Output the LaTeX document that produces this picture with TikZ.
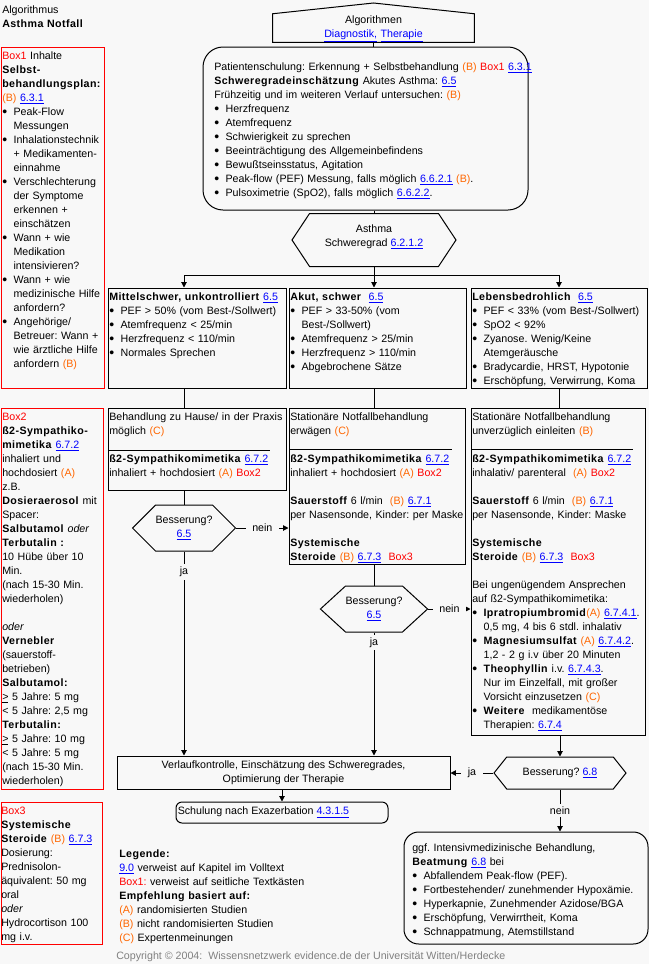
\documentclass[tikz,border=0pt]{standalone}
\usepackage{fontspec}
\setmainfont{Liberation Sans}[BoldFeatures={LetterSpace=4}]
\usetikzlibrary{shapes.symbols, fit, arrows.meta}
\frenchspacing

\newcommand\lnk[1]{\textcolor{lnkblue}{\underline{#1}}}
\newcommand\evid[1]{\textcolor{evorange}{(#1)}}
\newcommand\boxref[1]{\textcolor{boxred}{#1}}
\newcommand\bul{\makebox[8.5pt][l]{\raisebox{-1.2pt}{\fontsize{10.5}{10}\selectfont\textbullet}}}
\newcommand\ind{\hspace*{8.5pt}}

\begin{document}
\begin{tikzpicture}[x=0.75pt, y=-0.75pt, every node/.style={font=\fontsize{8}{10.5}\selectfont}]
  \definecolor{bg}{RGB}{248,248,248} \definecolor{lnkblue}{RGB}{0,0,255}
  \definecolor{evorange}{RGB}{255,102,0} \definecolor{boxred}{RGB}{255,0,0} \definecolor{copygray}{RGB}{128,128,128}
  \tikzstyle{line}=[line width=0.75pt]
  \tikzstyle{edge}=[-{Triangle[length=4pt,width=4pt]}, line width=0.75pt]
  \tikzstyle{box}=[draw, line width=0.75pt, inner sep=0pt]
  \tikzstyle{redbox}=[draw=boxred, line width=0.75pt, inner sep=0pt]
  \tikzstyle{txt}=[anchor=north west, align=left, inner sep=0pt, execute at begin node={\strut}]
  \tikzstyle{hexa}=[signal, signal to=east and west, draw, line width=0.75pt, inner sep=0pt, align=center]
  \tikzstyle{lbl}=[fill=bg, inner xsep=5pt, inner ysep=2pt]
  \fill[bg] (0,0) rectangle (649,964);
  \useasboundingbox (0,0) rectangle (649,964);

  \node[txt, text width=120pt] (title) at (2,3) {Algorithmus\\\textbf{Asthma Notfall}};

  % side boxes
  \node[redbox, fit={(1,47) (104,388)}] (box1) {};
  \node[txt, text width=90pt] (box1t) at (2,49) {\boxref{Box1} Inhalte\\ \textbf{Selbst-}\\ \textbf{behandlungsplan:}\\ \evid{B} \lnk{6.3.1}\\
    \bul Peak-Flow\\ \ind Messungen\\ \bul Inhalationstechnik\\ \ind + Medikamenten-\\ \ind einnahme\\
    \bul Verschlechterung\\ \ind der Symptome\\ \ind erkennen +\\ \ind einschätzen\\
    \bul Wann + wie\\ \ind Medikation\\ \ind intensivieren?\\ \bul Wann + wie\\ \ind medizinische Hilfe\\ \ind anfordern?\\
    \bul Angehörige/\\ \ind Betreuer: Wann +\\ \ind wie ärztliche Hilfe\\ \ind anfordern \evid{B}};
  \node[redbox, fit={(1,408) (103,789)}] (box2) {};
  \node[txt, text width=90pt] (box2t) at (2,410) {\boxref{Box2}\\ \textbf{ß2-Sympathiko-}\\ \textbf{mimetika} \lnk{6.7.2}\\ inhaliert und\\ hochdosiert \evid{A}\\ z.B.\\
    \textbf{Dosieraerosol} mit\\ Spacer:\\ \textbf{Salbutamol} \textit{oder}\\ \textbf{Terbutalin :}\\ 10 Hübe über 10\\ Min.\\ (nach 15-30 Min.\\ wiederholen)\\[10.5pt]
    \textit{oder}\\ \textbf{Vernebler}\\ (sauerstoff-\\ betrieben)\\ \textbf{Salbutamol:}\\ \underline{>} 5 Jahre: 5 mg\\ < 5 Jahre: 2,5 mg\\
    \textbf{Terbutalin:}\\ \underline{>} 5 Jahre: 10 mg\\ < 5 Jahre: 5 mg\\ (nach 15-30 Min.\\ wiederholen)};
  \node[redbox, fit={(1,802) (102,944)}] (box3) {};
  \node[txt, text width=90pt] (box3t) at (1,804) {\boxref{Box3}\\ \textbf{Systemische}\\ \textbf{Steroide} \evid{B} \lnk{6.7.3}\\ Dosierung:\\ Prednisolon-\\ äquivalent: 50 mg\\ oral\\ \textit{oder}\\ Hydrocortison 100\\ mg i.v.};

  % top
  \node[inner sep=0pt, fit={(273,14) (474,42)}] (algo) {};
  \draw[line] (algo.south west) -- (algo.north west) -- (algo.north |- 0,3) -- (algo.north east) -- (algo.south east) -- cycle;
  \node[txt, anchor=north, align=center, text width=140pt] (algot) at (373.5,13) {Algorithmen\\ \lnk{Diagnostik,} \lnk{Therapie}};
  \node[box, rounded corners=15pt, fit={(203,47) (528,210)}] (info) {};
  \node[txt, text width=250pt] (infot) at (214,60) {Patientenschulung: Erkennung + Selbstbehandlung \evid{B} \boxref{Box1} \lnk{6.3.1}\\
    \textbf{Schweregradeinschätzung} Akutes Asthma: \lnk{6.5}\\ Frühzeitig und im weiteren Verlauf untersuchen: \evid{B}\\
    \bul Herzfrequenz\\ \bul Atemfrequenz\\ \bul Schwierigkeit zu sprechen\\ \bul Beeinträchtigung des Allgemeinbefindens\\
    \bul Bewußtseinsstatus, Agitation\\ \bul Peak-flow (PEF) Messung, falls möglich \lnk{6.6.2.1} \evid{B}.\\ \bul Pulsoximetrie (SpO2), falls möglich \lnk{6.6.2.2}.};
  \node[hexa, minimum width=123pt, minimum height=39.75pt, signal pointer angle=113] (sev) at (374,240) {};
  \node[align=center, inner sep=0pt] (sevt) at (374,237) {Asthma\\ Schweregrad \lnk{6.2.1.2}};

  % severity
  \foreach \i/\xa/\xb in {1/108/286, 2/289/466, 3/471/647} {
    \node[box, fit={(\xa,288) (\xb,388)}] (grade\i) {};
  }
  \node[txt, text width=140pt] (grade1t) at (109,290) {\textbf{Mittelschwer, unkontrolliert} \lnk{6.5}\\ \bul PEF > 50\% (vom Best-/Sollwert)\\
    \bul Atemfrequenz < 25/min\\ \bul Herzfrequenz < 110/min\\ \bul Normales Sprechen};
  \node[txt, text width=140pt] (grade2t) at (290,290) {\textbf{Akut, schwer}\ \ \lnk{6.5}\\ \bul PEF > 33-50\% (vom\\ \ind Best-/Sollwert)\\
    \bul Atemfrequenz > 25/min\\ \bul Herzfrequenz > 110/min\\ \bul Abgebrochene Sätze};
  \node[txt, text width=140pt] (grade3t) at (472,290) {\textbf{Lebensbedrohlich}\ \ \lnk{6.5}\\ \bul PEF < 33\% (vom Best-/Sollwert)\\ \bul SpO2 < 92\%\\
    \bul Zyanose. Wenig/Keine\\ \ind Atemgeräusche\\ \bul Bradycardie, HRST, Hypotonie\\ \bul Erschöpfung, Verwirrung, Koma};

  % treatment
  \node[box, fit={(108,408) (286,490)}] (treat1) {};
  \node[box, fit={(289,408) (465,564)}] (treat2) {};
  \node[box, fit={(471,408) (645,735)}] (treat3) {};
  \draw[line] (108,450) -- (270,450);
  \draw[line] (289,449) -- (452,449);
  \draw[line] (471,449) -- (633,449);
  \node[txt, text width=140pt] (treat1t) at (109,410) {Behandlung zu Hause/ in der Praxis\\ möglich \evid{C}\\[10.5pt]
    \textbf{ß2-Sympathikomimetika} \lnk{6.7.2}\\ inhaliert + hochdosiert \evid{A} \boxref{Box2}};
  \node[txt, text width=140pt] (treat2t) at (290,410) {Stationäre Notfallbehandlung\\ erwägen \evid{C}\\[10.5pt]
    \textbf{ß2-Sympathikomimetika} \lnk{6.7.2}\\ inhaliert + hochdosiert \evid{A} \boxref{Box2}\\[10.5pt]
    \textbf{Sauerstoff} 6 l/min\ \ \evid{B} \lnk{6.7.1}\\ per Nasensonde, Kinder: per Maske\\[10.5pt]
    \textbf{Systemische}\\ \textbf{Steroide} \evid{B} \lnk{6.7.3}\ \ \boxref{Box3}};
  \node[txt, text width=140pt] (treat3t) at (472,410) {Stationäre Notfallbehandlung\\ unverzüglich einleiten \evid{B}\\[10.5pt]
    \textbf{ß2-Sympathikomimetika} \lnk{6.7.2}\\ inhalativ/ parenteral\ \ \evid{A} \boxref{Box2}\\[10.5pt]
    \textbf{Sauerstoff} 6 l/min\ \ \evid{B} \lnk{6.7.1}\\ per Nasensonde, Kinder: Maske\\[10.5pt]
    \textbf{Systemische}\\ \textbf{Steroide} \evid{B} \lnk{6.7.3}\ \ \boxref{Box3}\\[10.5pt]
    Bei ungenügendem Ansprechen\\ auf ß2-Sympathikomimetika:\\
    \bul \textbf{Ipratropiumbromid}\evid{A} \lnk{6.7.4.1}.\\ \ind 0,5 mg, 4 bis 6 stdl. inhalativ\\
    \bul \textbf{Magnesiumsulfat} \evid{A} \lnk{6.7.4.2}.\\ \ind 1,2 - 2 g i.v über 20 Minuten\\
    \bul \textbf{Theophyllin} i.v. \lnk{6.7.4.3}.\\ \ind Nur im Einzelfall, mit großer\\ \ind Vorsicht einzusetzen \evid{C}\\
    \bul \textbf{Weitere}\ \ medikamentöse\\ \ind Therapien: \lnk{6.7.4}};

  % decisions
  \node[hexa, minimum width=69pt, minimum height=34.5pt, signal pointer angle=90] (bess1) at (184,528) {Besserung?\\ \lnk{6.5}};
  \node[hexa, minimum width=79.5pt, minimum height=34.5pt, signal pointer angle=85] (bess2) at (374,609) {Besserung?\\ \lnk{6.5}};
  \node[hexa, minimum width=99pt, minimum height=24pt, signal pointer angle=103] (bess3) at (560,773) {Besserung? \lnk{6.8}};

  % bottom
  \node[box, fit={(117,756) (450,789)}] (verlauf) {};
  \node[align=center, inner sep=0pt] (verlauft) at (verlauf.center) {Verlaufkontrolle, Einschätzung des Schweregrades,\\ Optimierung der Therapie};
  \node[box, rounded corners=4.5pt, fit={(176,802) (388,823)}] (schul) {};
  \node[anchor=west, inner sep=0pt] (schult) at ([xshift=1.5pt]schul.west) {Schulung nach Exazerbation \lnk{4.3.1.5}};
  \node[box, rounded corners=11pt, fit={(404,832) (648,944)}] (final) {};
  \node[txt, text width=180pt] (finalt) at (412,841) {ggf. Intensivmedizinische Behandlung,\\ \textbf{Beatmung} \lnk{6.8} bei\\
    \bul Abfallendem Peak-flow (PEF).\\ \bul Fortbestehender/ zunehmender Hypoxämie.\\ \bul Hyperkapnie, Zunehmender Azidose/BGA\\
    \bul Erschöpfung, Verwirrtheit, Koma\\ \bul Schnappatmung, Atemstillstand};
  \node[txt, text width=200pt] (legend) at (119,847) {\textbf{Legende:}\\ \lnk{9.0} verweist auf Kapitel im Volltext\\ \boxref{Box1:} verweist auf seitliche Textkästen\\
    \textbf{Empfehlung basiert auf:}\\ \evid{A} randomisierten Studien\\ \evid{B} nicht randomisierten Studien\\ \evid{C} Expertenmeinungen};
  \node[anchor=west, inner sep=0pt, text=copygray] (copy) at (116,957) {Copyright © 2004:\ \ Wissensnetzwerk evidence.de der Universität Witten/Herdecke};

  % connectors
  \draw[line] (algo.south) -- (algo.south |- info.north);
  \draw[line] (sev.north |- info.south) -- (sev.north);
  \coordinate (fork) at (sev.south |- 0,275);
  \draw[line] (sev.south) -- (fork);
  \draw[line] (fork -| 184,0) -- (fork -| 559,0);
  \foreach \x/\i in {184/1, 374/2, 559/3} {
    \draw[edge] (fork -| \x,0) -- (grade\i.north -| \x,0);
    \draw[line] (grade\i.south -| \x,0) -- (treat\i.north -| \x,0);
  }
  \draw[line] (treat1.south -| bess1.north) -- (bess1.north);
  \draw[edge] (bess1.east) -- node[lbl] {nein} (bess1.east -| treat2.west);
  \draw[edge] (bess1.south) -- node[lbl, pos=0.1] {ja} (bess1.south |- verlauf.north);
  \draw[line] (treat2.south -| bess2.north) -- (bess2.north);
  \draw[edge] (bess2.east) -- node[lbl] {nein} (bess2.east -| treat3.west);
  \draw[edge] (bess2.south) -- node[lbl, pos=0.08] {ja} (bess2.south |- verlauf.north);
  \draw[edge] (treat3.south -| bess3.north) -- (bess3.north);
  \draw[edge] (bess3.west) -- node[lbl] {ja} (bess3.west -| verlauf.east);
  \draw[edge] (bess3.south) -- node[lbl] {nein} (bess3.south |- final.north);
  \draw[edge] (verlauf.south -| schul.north) -- (schul.north);
\end{tikzpicture}
\end{document}
